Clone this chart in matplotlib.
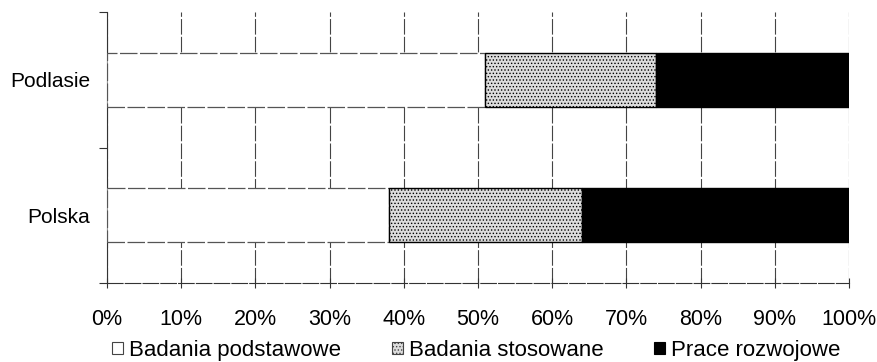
import matplotlib.pyplot as plt
from matplotlib.patches import Patch
from matplotlib.ticker import FixedLocator, PercentFormatter

plt.rcParams['font.family'] = ['Liberation Sans', 'DejaVu Sans']
plt.rcParams['hatch.linewidth'] = 0.6
plt.rcParams['hatch.color'] = '#8a8a8a'

regions = ["Polska", "Podlasie"]
podstawowe = [38, 51]
stosowane = [26, 23]
rozwojowe = [36, 26]
series_names = ["Badania podstawowe", "Badania stosowane", "Prace rozwojowe"]

dash = (0, (14, 2))

fig = plt.figure(figsize=(8.77, 3.62), dpi=100)
ax = fig.add_axes([0.122, 0.218, 0.846, 0.749])

y = list(range(len(regions)))
h = 0.4
ax.barh(y, podstawowe, height=h, color='white', edgecolor='#555555',
        linewidth=0.9, linestyle=dash, zorder=3)
left2 = podstawowe
ax.barh(y, stosowane, left=left2, height=h, color='#dcdcdc', hatch='.....',
        edgecolor='black', linewidth=1.0, zorder=3)
left3 = [a + b for a, b in zip(podstawowe, stosowane)]
ax.barh(y, rozwojowe, left=left3, height=h, color='black',
        edgecolor='black', linewidth=1.0, zorder=3)

ax.set_xlim(0, 100)
ax.set_ylim(-0.5, 1.5)
ax.set_xticks(range(0, 101, 10))
ax.xaxis.set_major_formatter(PercentFormatter(decimals=0))
ax.set_yticks(y)
ax.set_yticklabels(regions)
ax.yaxis.set_minor_locator(FixedLocator([-0.5, 0.5, 1.5]))
ax.tick_params(axis='y', which='major', length=0, pad=12, labelsize=15)
ax.tick_params(axis='y', which='minor', length=6, width=0.8, direction='out',
               color='#333333')
ax.tick_params(axis='x', length=7, width=0.8, direction='inout', pad=15,
               labelsize=15.5, color='#333333')

ax.grid(axis='x', color='#444444', linewidth=0.8, linestyle=dash, zorder=0)
for s in ['top', 'right']:
    ax.spines[s].set_visible(False)
ax.spines['bottom'].set_linestyle(dash)
ax.spines['bottom'].set_color('#333333')
ax.spines['bottom'].set_linewidth(0.8)
ax.spines['left'].set_color('#333333')
ax.spines['left'].set_linewidth(0.8)

handles = [
    Patch(facecolor='white', edgecolor='#444444', linewidth=0.8),
    Patch(facecolor='#dcdcdc', edgecolor='#444444', hatch='.....', linewidth=0.8),
    Patch(facecolor='black', edgecolor='black', linewidth=0.8),
]
fig.legend(handles, series_names, loc='center', bbox_to_anchor=(0.543, 0.032),
           ncol=3, frameon=False, fontsize=16, handlelength=0.5,
           handleheight=0.5, handletextpad=0.25, columnspacing=2.3)

fig.savefig('out.png', dpi=100)
